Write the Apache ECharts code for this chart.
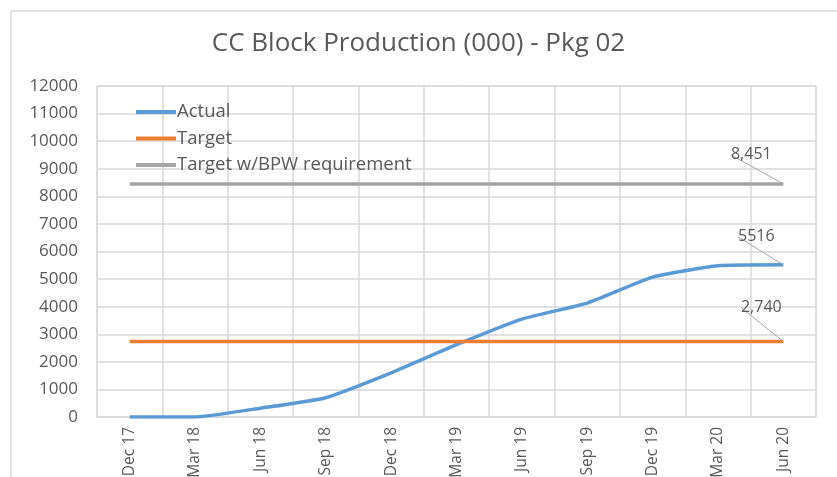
<!DOCTYPE html>
<html>
<head>
<meta charset="utf-8">
<script src="https://cdn.jsdelivr.net/npm/echarts@6/dist/echarts.min.js"></script>
<style>
  html, body { margin: 0; padding: 0; background: #fff; }
  #chart { width: 837px; height: 477px; }
</style>
</head>
<body>
<div id="chart"></div>
<script>
// quarters on the x axis
const quarters = ['Dec 17', 'Mar 18', 'Jun 18', 'Sep 18', 'Dec 18', 'Mar 19',
  'Jun 19', 'Sep 19', 'Dec 19', 'Mar 20', 'Jun 20'];
// values
const actual = [0, 0, 320, 700, 1600, 2620, 3550, 4130, 5070, 5480, 5516];
const target = [2740, 2740, 2740, 2740, 2740, 2740, 2740, 2740, 2740, 2740, 2740];
const targetBpw = [8451, 8451, 8451, 8451, 8451, 8451, 8451, 8451, 8451, 8451, 8451];
const endLabels = ['5516', '2,740', '8,451'];

const txt = '#595959';
const font = 'Open Sans';

let chartDom = document.getElementById('chart');
let myChart = echarts.init(chartDom);

// only the last point gets a label, with a leader line back to the point
function withEndLabel(data, text) {
  return data.map(function (v, i) {
    if (i !== data.length - 1) return v;
    return {
      value: v,
      label: {
        show: true,
        position: 'top',
        distance: 5,
        color: txt,
        fontFamily: font,
        fontSize: 16,
        formatter: text
      },
      labelLine: { show: true, lineStyle: { color: '#a6a6a6', width: 1 } }
    };
  });
}

function lineSeries(name, data, color, text, dx, dy, extra) {
  return Object.assign({
    name: name,
    type: 'line',
    data: withEndLabel(data, text),
    symbol: 'circle',
    symbolSize: 0,
    showSymbol: true,
    label: { show: false },
    labelLine: { show: false },
    labelLayout: function (p) {
      if (p.dataIndex !== data.length - 1) return {};
      return { dx: dx, dy: dy };
    },
    lineStyle: { color: color, width: 3.5 },
    itemStyle: { color: color }
  }, extra);
}

let option = {
  backgroundColor: '#fff',
  animation: false,
  title: {
    text: 'CC Block Production (000) - Pkg 02',
    left: 'center',
    top: 26,
    textStyle: { color: txt, fontFamily: font, fontSize: 26, fontWeight: 'normal' }
  },
  legend: {
    orient: 'vertical',
    left: 131,
    top: 97,
    itemWidth: 40,
    itemHeight: 4,
    itemGap: 6.5,
    icon: 'rect',
    textStyle: { color: txt, fontFamily: font, fontSize: 18.5, lineHeight: 20, padding: [0, 0, 0, -4] },
    data: ['Actual', 'Target', 'Target w/BPW requirement']
  },
  grid: {
    left: 97, right: 21, top: 86, bottom: 60,
    outerBoundsMode: 'none',
    containLabel: false,
    show: true, borderColor: '#d9d9d9', borderWidth: 1
  },
  xAxis: {
    type: 'category',
    data: quarters,
    boundaryGap: true,
    axisLine: { lineStyle: { color: '#d9d9d9' } },
    axisTick: { show: false },
    splitLine: { show: true, lineStyle: { color: '#d9d9d9', width: 1.5 } },
    axisLabel: { rotate: 90, margin: 10, color: txt, fontFamily: font, fontSize: 15.5, interval: 0 }
  },
  yAxis: {
    type: 'value',
    min: 0,
    max: 12000,
    interval: 1000,
    axisLine: { show: false },
    axisTick: { show: false },
    splitLine: { lineStyle: { color: '#d9d9d9', width: 1.5 } },
    axisLabel: {
      margin: 19, color: txt, fontFamily: font, fontSize: 17,
      formatter: function (v) { return String(v); }
    }
  },
  graphic: [{
    type: 'rect',
    shape: { x: 11, y: 11, width: 900, height: 600 },
    style: { fill: 'none', stroke: '#d9d9d9', lineWidth: 1.5 },
    silent: true
  }],
  series: [
    lineSeries('Actual', actual, '#5b9bd5', endLabels[0], -27, -15, { smooth: 0.15 }),
    lineSeries('Target', target, '#ed7d31', endLabels[1], -22, -21),
    lineSeries('Target w/BPW requirement', targetBpw, '#a5a5a5', endLabels[2], -32, -16)
  ]
};

option && myChart.setOption(option);
</script>
</body>
</html>
